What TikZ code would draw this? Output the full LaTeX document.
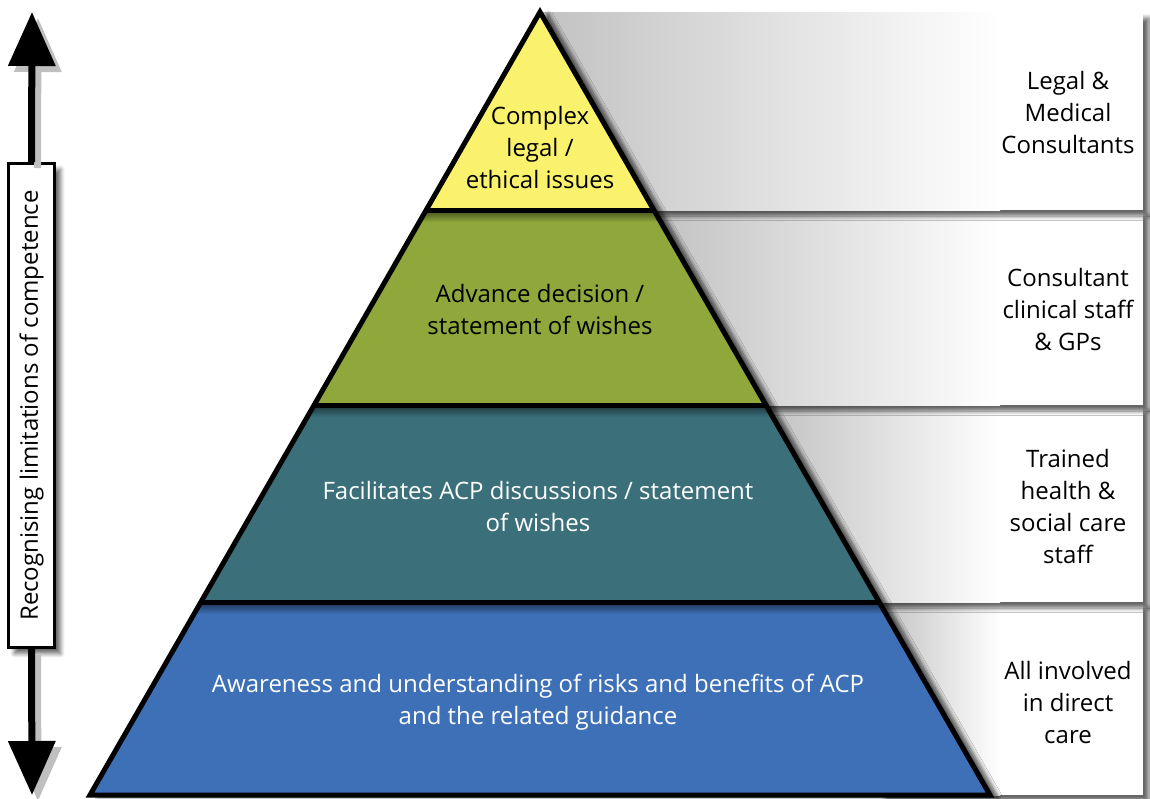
\documentclass[tikz,border=0pt]{standalone}
\usepackage{fontspec}
\setmainfont{Open Sans}
\usetikzlibrary{arrows.meta,shadows.blur,calc}

\definecolor{issueyellow}{HTML}{FAF26C}
\definecolor{decisiongreen}{HTML}{8FA73B}
\definecolor{discussteal}{HTML}{3B707A}
\definecolor{awareblue}{HTML}{3D70B6}

\tikzset{
	softshadow/.style={blur shadow={shadow xshift=3pt,shadow yshift=-3pt,shadow blur steps=8,shadow opacity=60}},
	bigarrow/.style={line width=3.5pt,-{Triangle[width=23pt,length=27pt,fill=#1]},draw=#1},
}

\begin{document}
\begin{tikzpicture}[x=0.5pt,y=-0.5pt,font=\fontsize{12}{16}\selectfont]
	\useasboundingbox (0,0) rectangle (1150,798);
	\pgfmathsetmacro{\pslope}{0.575}
	% grey bands on the right, lowest first so each shadow falls on the band below
	\foreach \yt/\yb in {602/795,405/602,210/405,12/210} {
		\pgfmathsetmacro{\xl}{540+\pslope*(\yt-12)}
		\fill[white,softshadow] (\xl,\yt) rectangle (1143,\yb);
		\shade[left color=black!24,right color=white] (\xl,\yt) rectangle (1000,\yb);
	}
	% pyramid
	\coordinate (apex) at (540,12);
	\coordinate (baseright) at (990,795);
	\coordinate (baseleft) at (90,795);
	\fill[white,blur shadow={shadow xshift=4pt,shadow yshift=-1pt,shadow blur steps=8,shadow opacity=70}] (apex) -- (baseright) -- (baseleft) -- cycle;
	\foreach \yt/\yb/\col in {12/210/issueyellow,210/405/decisiongreen,405/602/discussteal,602/795/awareblue} {
		\pgfmathsetmacro{\xa}{\pslope*(\yt-12)}
		\pgfmathsetmacro{\xb}{\pslope*(\yb-12)}
		\fill[\col] (540-\xa,\yt) -- (540+\xa,\yt) -- (540+\xb,\yb) -- (540-\xb,\yb) -- cycle;
	}
	% soft shade under each dividing line
	\foreach \y/\col in {210/decisiongreen,405/discussteal,602/awareblue} {
		\pgfmathsetmacro{\xa}{\pslope*(\y-12)}
		\pgfmathsetmacro{\xb}{\pslope*(\y+12-12)}
		\shade[top color=\col!45!black,bottom color=\col] (540-\xa,\y) -- (540+\xa,\y) -- (540+\xb,\y+12) -- (540-\xb,\y+12) -- cycle;
	}
	\foreach \y in {210,405,602} {
		\pgfmathsetmacro{\xa}{\pslope*(\y-12)}
		\draw[line width=2.5pt] (540-\xa,\y) -- (540+\xa,\y);
	}
	\draw[line width=2.5pt,line join=miter] (apex) -- (baseright) -- (baseleft) -- cycle;
	% texts in the pyramid
	\node[align=center] (issues) at (540,147) {Complex\\legal /\\ethical issues};
	\node[align=center] (decision) at (540,309) {Advance decision /\\statement of wishes};
	\node[align=center,text=white] (discuss) at (538,506) {Facilitates ACP discussions / statement\\of wishes};
	\node[align=center,text=white] (aware) at (538,702) {Awareness and understanding of risks and benefits of ACP\\and the related guidance};
	% who
	\node[align=center] (consultants) at (1068,112) {Legal \&\\Medical\\Consultants};
	\node[align=center] (clinical) at (1068,309) {Consultant\\clinical staff\\\& GPs};
	\node[align=center] (trained) at (1068,506) {Trained\\health \&\\social care\\staff};
	\node[align=center] (involved) at (1068,702) {All involved\\in direct\\care};
	% competence arrow
	\coordinate (uptip) at (32,12);
	\coordinate (downtip) at (32,795);
	\node[draw,fill=white,line width=1.5pt,rotate=90,inner sep=0pt,minimum width=242pt,minimum height=23pt,softshadow] (limits) at (31.5,405.5) {Recognising limitations of competence};
	\draw[bigarrow=black!25] ($(limits.east)+(6,6)$) -- ($(uptip)+(6,6)$);
	\draw[bigarrow=black!25] ($(limits.west)+(6,6)$) -- ($(downtip)+(6,6)$);
	\draw[bigarrow=black] (limits.east) -- (uptip);
	\draw[bigarrow=black] (limits.west) -- (downtip);
\end{tikzpicture}
\end{document}
